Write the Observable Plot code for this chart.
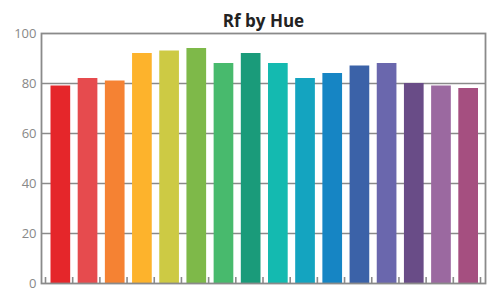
<!DOCTYPE html>
<html>
<head>
<meta charset="utf-8">
<script src="https://cdn.jsdelivr.net/npm/d3@7"></script>
<script src="https://cdn.jsdelivr.net/npm/@observablehq/plot@0.6"></script>
<style>
  html, body { margin: 0; padding: 0; background: #fff; overflow: hidden; }
  #chart svg { display: block; }
</style>
</head>
<body>
<div id="chart"></div>
<script>
const title = "Rf by Hue";
const hues = ["1","2","3","4","5","6","7","8","9","10","11","12","13","14","15","16"];
const rf = [79, 82, 81, 92, 93, 94, 88, 92, 88, 82, 84, 87, 88, 80, 79, 78];
const colors = ["#e5262a","#e64b4e","#f58233","#fdb32c","#cdca44","#7eb949","#48ba6d","#1a9b7a",
                "#14bab0","#14a4c0","#1685c4","#3b62a8","#6a67ad","#694c87","#9b69a0","#a54f80"];
const yTicks = [0, 20, 40, 60, 80, 100];

const data = hues.map((h, i) => ({hue: h, i, rf: rf[i], color: colors[i]}));
const boundaries = d3.range(hues.length + 1);

const chart = Plot.plot({
  width: 494,
  height: 290,
  marginTop: 33,
  marginBottom: 7,
  marginLeft: 41,
  marginRight: 9,
  style: {fontFamily: "'Open Sans', sans-serif", background: "#fff"},
  x: {domain: [0, hues.length], insetLeft: 4, insetRight: 5},
  y: {domain: [0, 100]},
  marks: [
    Plot.gridY([20, 40, 60, 80], {stroke: "#8a8a8a", strokeOpacity: 1, strokeWidth: 1.6}),
    Plot.rectY(data, {x1: "i", x2: d => d.i + 1, y: "rf", fill: "color", insetLeft: 5.5, insetRight: 2}),
    Plot.tickX(boundaries, {x: d => d, stroke: "#8a8a8a", strokeWidth: 1.6, insetTop: 244}),
    Plot.axisY(yTicks, {tickSize: 0, tickPadding: 5, fill: "#888", fontSize: 13, label: null}),
    Plot.axisX({ticks: [], label: null}),
    Plot.frame({stroke: "#8a8a8a", strokeWidth: 1.8}),
    Plot.text([title], {frameAnchor: "top", dy: -19, fontSize: 17, fontWeight: "bold", fill: "#222"})
  ]
});
document.getElementById("chart").appendChild(chart);
</script>
</body>
</html>
